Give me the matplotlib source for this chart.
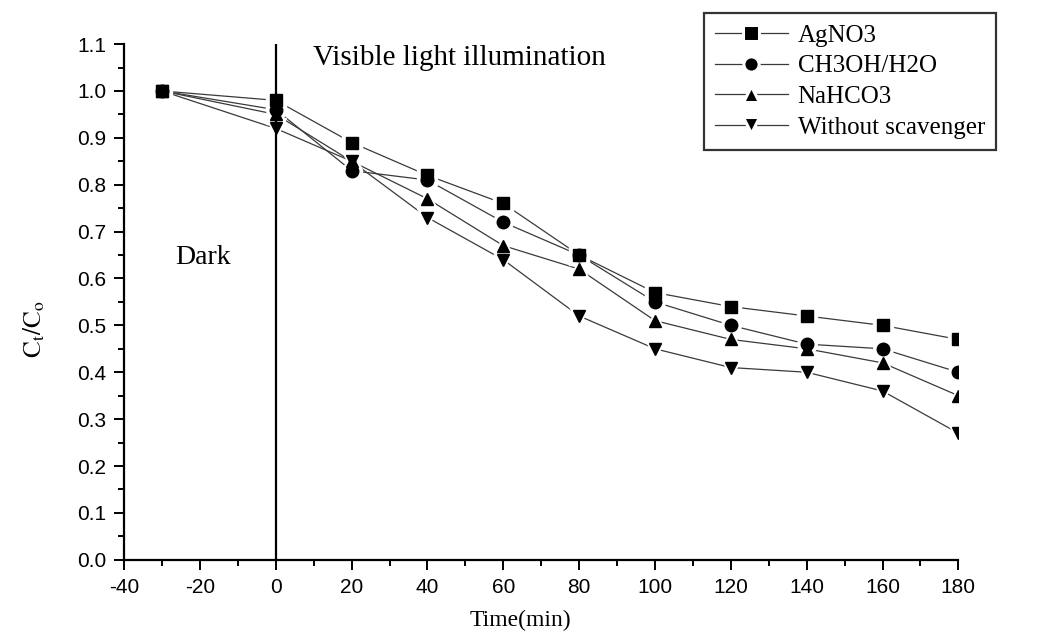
import numpy as np
import matplotlib
matplotlib.use("Agg")
import matplotlib.pyplot as plt
from matplotlib.lines import Line2D
from matplotlib.ticker import MultipleLocator

plt.rcParams['mathtext.fontset'] = 'stix'
plt.rcParams['axes.unicode_minus'] = False

# sampling times (min) and normalised concentration for each scavenger
time_min = [-30, 0, 20, 40, 60, 80, 100, 120, 140, 160, 180]
agno3 = [1.00, 0.98, 0.89, 0.82, 0.76, 0.65, 0.57, 0.54, 0.52, 0.50, 0.47]
ch3oh = [1.00, 0.96, 0.83, 0.81, 0.72, 0.65, 0.55, 0.50, 0.46, 0.45, 0.40]
nahco3 = [1.00, 0.95, 0.85, 0.77, 0.67, 0.62, 0.51, 0.47, 0.45, 0.42, 0.35]
no_scav = [1.00, 0.92, 0.85, 0.73, 0.64, 0.52, 0.45, 0.41, 0.40, 0.36, 0.27]

labels = ['AgNO3', 'CH3OH/H2O', 'NaHCO3', 'Without scavenger']
markers = ['s', 'o', '^', 'v']
series = [agno3, ch3oh, nahco3, no_scav]

serif = 'Liberation Serif'
sans = 'Liberation Sans'
line_col = '#3a3a3a'

fig = plt.figure(figsize=(10.52, 6.39), dpi=100)
ax = fig.add_axes([0.118, 0.124, 0.793, 0.807])

# lines first, then a white halo under each marker so the lines stop short
for y in series:
    ax.plot(time_min, y, color=line_col, lw=0.9, zorder=1)
for y, m in zip(series, markers):
    ax.plot(time_min, y, ls='none', marker=m, ms=14, mfc='white', mec='white', zorder=2)
for y, m in zip(series, markers):
    ax.plot(time_min, y, ls='none', marker=m, ms=9, mfc='black', mec='black', zorder=3)

# dark / light boundary
ax.axvline(0, color='black', lw=1.6, zorder=4)

ax.set_xlim(-40, 180)
ax.set_ylim(0, 1.1)
ax.xaxis.set_major_locator(MultipleLocator(20))
ax.xaxis.set_minor_locator(MultipleLocator(10))
ax.yaxis.set_major_locator(MultipleLocator(0.1))
ax.yaxis.set_minor_locator(MultipleLocator(0.05))
ax.tick_params(which='major', direction='out', length=7, width=1.4, labelsize=15, pad=6)
ax.tick_params(which='minor', direction='out', length=4, width=1.4)
for lbl in ax.get_xticklabels() + ax.get_yticklabels():
    lbl.set_fontfamily(sans)
ax.yaxis.set_major_formatter(plt.FuncFormatter(lambda v, p: f'{v:.1f}'))

for s in ['top', 'right']:
    ax.spines[s].set_visible(False)
for s in ['left', 'bottom']:
    ax.spines[s].set_linewidth(1.6)

ax.set_xlabel('Time(min)', fontfamily=serif, fontsize=17)
ax.xaxis.set_label_coords(0.475, -0.098)
ax.set_ylabel(r'$\mathrm{C_t/C_o}$', fontsize=18)
ax.yaxis.set_label_coords(-0.092, 0.446)

ax.text(9.9, 1.070, 'Visible light illumination', fontfamily=serif, fontsize=21,
        va='center', ha='left')
ax.text(-26.5, 0.644, 'Dark', fontfamily=serif, fontsize=20, va='center', ha='left')

handles = [Line2D([], [], color=line_col, lw=0.9, marker=m, ms=11, mfc='black',
                  mec='white', mew=2.2) for m in markers]
leg = fig.legend(handles, labels, loc='upper left', bbox_to_anchor=(0.669, 0.980),
                 prop={'family': serif, 'size': 18}, frameon=True, fancybox=False,
                 edgecolor='black', handlelength=2.9, handletextpad=0.4,
                 labelspacing=0.33, borderpad=0.45, borderaxespad=0)
leg.get_frame().set_linewidth(1.6)

fig.savefig('out.png', dpi=100)
